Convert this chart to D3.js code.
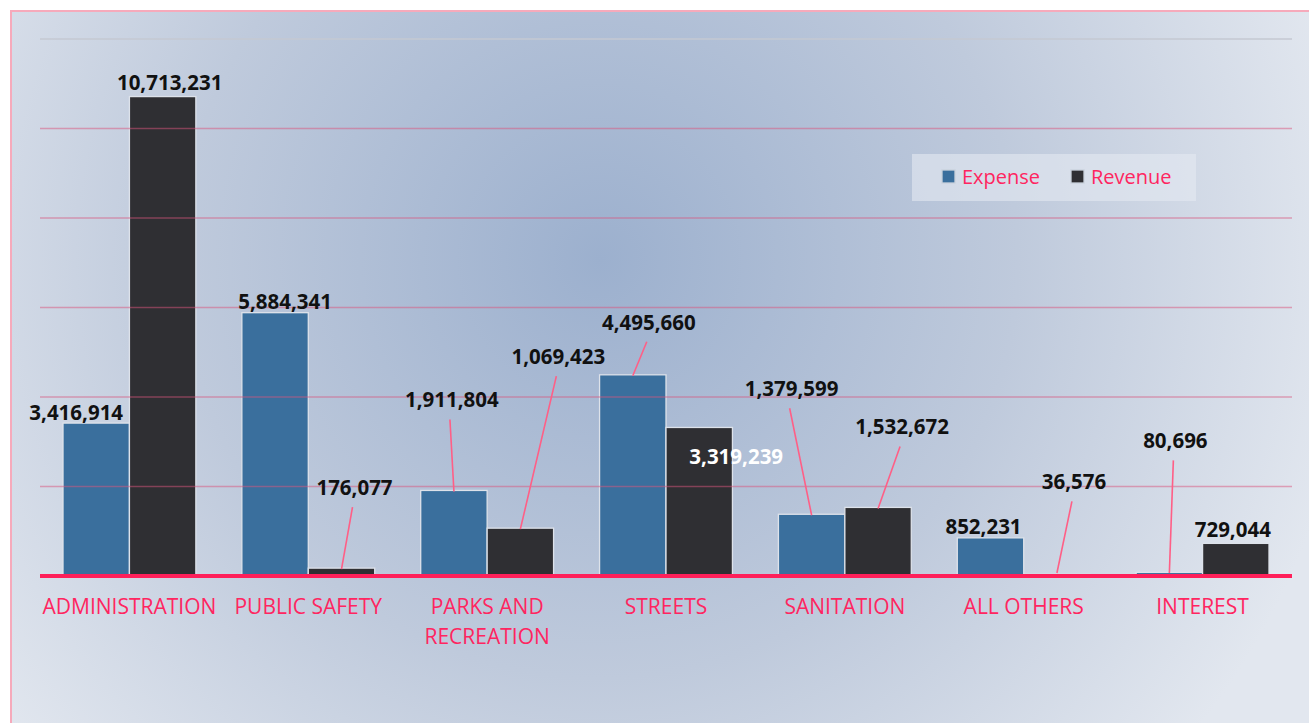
<!DOCTYPE html>
<html><head><meta charset="utf-8">
<script src="https://cdn.jsdelivr.net/npm/d3@7"></script>
<style>html,body{margin:0;padding:0;background:#fff;}svg{display:block;}</style>
</head><body>
<svg id="chart" width="1309" height="723"></svg>
<script>
const categories = ["ADMINISTRATION","PUBLIC SAFETY","PARKS AND RECREATION","STREETS","SANITATION","ALL OTHERS","INTEREST"];
const categoryLines = [["ADMINISTRATION"],["PUBLIC SAFETY"],["PARKS AND","RECREATION"],["STREETS"],["SANITATION"],["ALL OTHERS"],["INTEREST"]];
const seriesNames = ["Expense","Revenue"];
const expense = [3416914, 5884341, 1911804, 4495660, 1379599, 852231, 80696];
const revenue = [10713231, 176077, 1069423, 3319239, 1532672, 36576, 729044];
const yTicks = [0, 2000000, 4000000, 6000000, 8000000, 10000000, 12000000];

// label placement (offsets from bar top-centre), leader flag
const expLabelPos = [[-20,-10,false],[10,-11,false],[-2,-90,true],[16,-52,true],[-20,-125,true],[-7,-11,false],[6,-131,true]];
const revLabelPos = [[7,-14,false],[13,-80,true],[38,-171,true],[37,30,false],[24,-80,true],[17,-92,true],[-3,-13,false]];

(function(){
const svg = d3.select("#chart");
const W = 1309, H = 723;
const colors = {Expense:"#3a6f9d", Revenue:"#2f2f33"};

const defs = svg.append("defs");
const rg = defs.append("radialGradient").attr("id","bg").attr("gradientUnits","userSpaceOnUse")
  .attr("cx",600).attr("cy",260).attr("r",760);
rg.append("stop").attr("offset","0").attr("stop-color","#9cb0ce");
rg.append("stop").attr("offset","0.55").attr("stop-color","#bfcadc");
rg.append("stop").attr("offset","1").attr("stop-color","#e2e7ef");
svg.append("rect").attr("x",11).attr("y",11).attr("width",W+20).attr("height",H+20)
  .attr("fill","url(#bg)").attr("stroke","#f6aabb").attr("stroke-width",2);

const pLeft = 40, pRight = 1292, base = 576, pTop = 39;
const x0 = d3.scaleBand().domain(categories).range([pLeft,pRight]).padding(0);
const gap = 23;
const x1 = d3.scaleBand().domain(seriesNames).range([gap, x0.bandwidth()-gap]).padding(0);
const y = d3.scaleLinear().domain([0, 12000000]).range([base, pTop]);

const rows = categories.map((c,i)=>({cat:c, vals:[{s:"Expense",v:expense[i],pos:expLabelPos[i]},{s:"Revenue",v:revenue[i],pos:revLabelPos[i]}]}));
const g = svg.append("g");
const grp = g.selectAll("g.cat").data(rows).join("g").attr("class","cat").attr("transform",d=>`translate(${x0(d.cat)},0)`);
grp.selectAll("rect").data(d=>d.vals).join("rect")
  .attr("x",d=>x1(d.s)).attr("width",x1.bandwidth())
  .attr("y",d=>y(d.v)).attr("height",d=>base-y(d.v))
  .attr("fill",d=>colors[d.s]).attr("stroke","#dde2ea").attr("stroke-width",1.3);

svg.append("g").selectAll("line").data(yTicks.filter(t=>t>0)).join("line")
  .attr("x1",pLeft).attr("x2",pRight).attr("y1",d=>y(d)).attr("y2",d=>y(d))
  .attr("stroke",d=>d===12000000?"#c4c9d2":"#d9557e").attr("stroke-opacity",d=>d===12000000?1:0.5)
  .attr("stroke-width",1.5);

svg.append("line").attr("x1",pLeft).attr("x2",pRight).attr("y1",base).attr("y2",base)
  .attr("stroke","#ff1f5a").attr("stroke-width",4);

const fmt = d3.format(",");
const lab = svg.append("g");
rows.forEach(r=>{
  r.vals.forEach(d=>{
    const cx = x0(r.cat)+x1(d.s)+x1.bandwidth()/2;
    const ty = y(d.v);
    const lx = cx + d.pos[0], ly = ty + d.pos[1];
    if(d.pos[2]){
      lab.append("line").attr("x1",lx-2).attr("y1",ly+19).attr("x2",cx).attr("y2",Math.min(ty+1,base-3))
        .attr("stroke","#ff5f86").attr("stroke-width",1.6);
    }
    lab.append("text").attr("x",lx).attr("y",ly).attr("dy","0.34em").attr("text-anchor","middle")
      .attr("font-family","'Open Sans', sans-serif").attr("font-weight","bold").attr("font-size","20.5px")
      .attr("fill", (r.cat==="STREETS"&&d.s==="Revenue")?"#ffffff":"#111111")
      .text(fmt(d.v));
  });
});

const cl = svg.append("g");
categories.forEach((c,i)=>{
  const t = cl.append("text").attr("x",x0(c)+x0.bandwidth()/2).attr("y",614)
    .attr("text-anchor","middle").attr("font-family","'Open Sans', sans-serif")
    .attr("font-size","21px").attr("fill","#ff2560");
  categoryLines[i].forEach((ln,j)=>t.append("tspan").attr("x",x0(c)+x0.bandwidth()/2).attr("dy",j===0?0:30).text(ln));
});

const lg = svg.append("g");
lg.append("rect").attr("x",912).attr("y",154).attr("width",284).attr("height",47).attr("fill","#e4e9f1").attr("fill-opacity",0.6);
const legX = [942, 1071];
seriesNames.forEach((s,i)=>{
  lg.append("rect").attr("x",legX[i]).attr("y",170).attr("width",13).attr("height",13)
    .attr("fill",colors[s]).attr("stroke","#c9d1dc").attr("stroke-width",1.3);
  lg.append("text").attr("x",legX[i]+20).attr("y",184).attr("font-family","'Open Sans', sans-serif")
    .attr("font-size","20px").attr("fill","#ff2560").text(s);
});
})();
</script>
</body></html>
